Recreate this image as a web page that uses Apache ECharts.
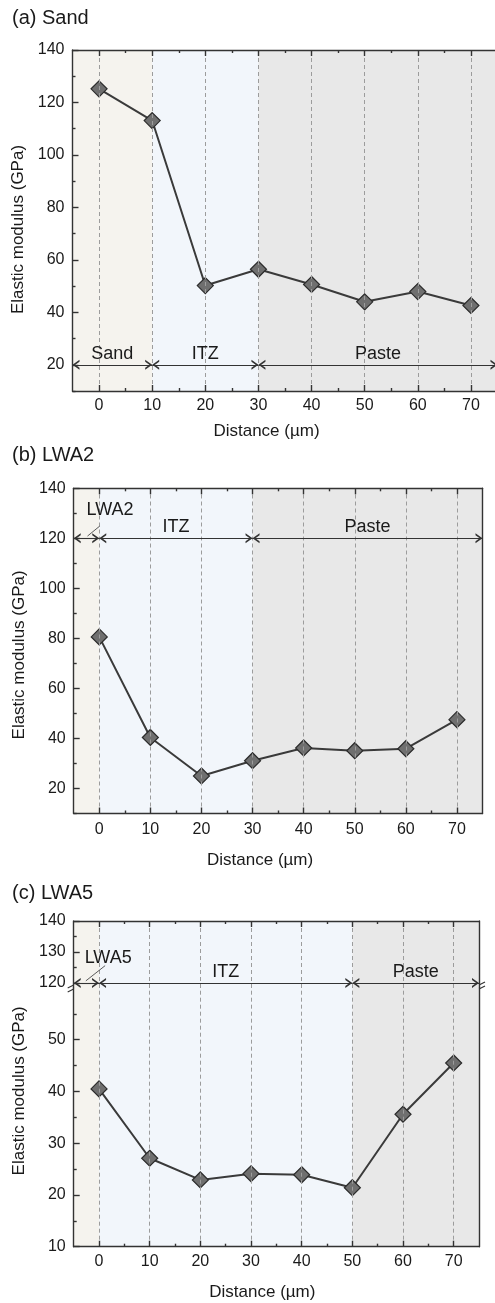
<!DOCTYPE html>
<html>
<head>
<meta charset="utf-8">
<script src="https://cdn.jsdelivr.net/npm/echarts@6/dist/echarts.min.js"></script>
<style>
  html, body { margin: 0; padding: 0; background: #fff; }
  #main { width: 495px; height: 1303px; }
</style>
</head>
<body>
<div id="main"></div>
<script>
// values
const distance = [0, 10, 20, 30, 40, 50, 60, 70]
const sandModulus = [125.2, 113.1, 50.2, 56.4, 50.6, 44.0, 47.9, 42.6]
const lwa2Modulus = [80.6, 40.4, 25.0, 31.1, 36.2, 35.1, 35.9, 47.5]
const lwa5Modulus = [40.5, 27.1, 22.9, 24.1, 23.9, 21.4, 35.6, 45.5]

// zones along distance
const sandZones = ['Sand', 'ITZ', 'Paste']
const sandBounds = [-5, 10, 30, 75]
const lwa2Zones = ['LWA2', 'ITZ', 'Paste']
const lwa2Bounds = [-5, 0, 30, 75]
const lwa5Zones = ['LWA5', 'ITZ', 'Paste']
const lwa5Bounds = [-5, 0, 50, 75]

// ticks
const xMajor = [0, 10, 20, 30, 40, 50, 60, 70]
const xMinor = [5, 15, 25, 35, 45, 55, 65]
const yMajor = [20, 40, 60, 80, 100, 120, 140]
const yMinor = [10, 30, 50, 70, 90, 110, 130]
const cUpperMajor = [120, 130, 140]
const cUpperMinor = [125, 135]
const cLowerMajor = [10, 20, 30, 40, 50]
const cLowerMinor = [15, 25, 35, 45, 55]

const FONT = '"Liberation Sans", Arial, Helvetica, sans-serif'
const TEXT = '#1a1a1a'
const zoneColors = ['#f5f3ee', '#f2f6fb', '#e8e8e8']
const axisLineStyle = { color: '#333', width: 1.4 }
const labelStyle = { fontSize: 16, color: TEXT, fontFamily: FONT }
const nameStyle = { fontSize: 17, color: TEXT, fontFamily: FONT }
// open chevron whose tip sits on the symbol centre (the first sub-path only pads the box)
const ARROW = 'path://M5,-10L5.01,-10L5,-10Z M0,10L5,0L10,10L8,10L5,4L2,10Z'
const ARROW_SIZE = [10, 14]

const xAxis = []
const yAxis = []

function addX(grid, pos, withLabels, margin, nameGap, namePad) {
  const base = { gridIndex: grid, type: 'value', min: -5, max: 75, position: pos, z: 5, splitLine: { show: false } }
  const idx = xAxis.length
  xAxis.push({
    ...base,
    axisLine: { show: true, onZero: false, lineStyle: axisLineStyle },
    axisTick: { show: true, inside: true, length: 6, customValues: xMajor, lineStyle: axisLineStyle },
    axisLabel: withLabels ? { show: true, customValues: xMajor, margin: margin, ...labelStyle } : { show: false },
    name: withLabels ? 'Distance (µm)' : '',
    nameLocation: 'middle',
    nameGap: nameGap,
    nameTextStyle: { ...nameStyle, padding: [0, namePad || 0, 0, 0] }
  })
  xAxis.push({
    ...base,
    axisLine: { show: false, onZero: false },
    axisTick: { show: true, inside: true, length: 3, customValues: xMinor, lineStyle: axisLineStyle },
    axisLabel: { show: false }
  })
  return idx
}

function addY(grid, min, max, major, minor, name, nameGap, namePad) {
  const base = { gridIndex: grid, type: 'value', min: min, max: max, z: 5, splitLine: { show: false } }
  const idx = yAxis.length
  yAxis.push({
    ...base,
    position: 'left',
    axisLine: { show: true, onZero: false, lineStyle: axisLineStyle },
    axisTick: { show: true, inside: true, length: 6, customValues: major, lineStyle: axisLineStyle },
    axisLabel: { show: true, customValues: major, margin: 8, ...labelStyle },
    name: name || '',
    nameLocation: 'middle',
    nameGap: nameGap,
    nameTextStyle: { ...nameStyle, padding: [0, namePad || 0, 0, 0] }
  })
  yAxis.push({
    ...base,
    position: 'left',
    axisLine: { show: false, onZero: false },
    axisTick: { show: true, inside: true, length: 3, customValues: minor, lineStyle: axisLineStyle },
    axisLabel: { show: false }
  })
  yAxis.push({
    ...base,
    position: 'right',
    axisLine: { show: true, onZero: false, lineStyle: axisLineStyle },
    axisTick: { show: false },
    axisLabel: { show: false }
  })
  return idx
}

const grid = [
  { left: 72.5, top: 50, width: 425, height: 341, outerBoundsMode: 'none' },
  { left: 73.7, top: 488.3, width: 408.8, height: 325.2, outerBoundsMode: 'none' },
  { left: 73.7, top: 921, width: 405.3, height: 67, outerBoundsMode: 'none' },
  { left: 73.7, top: 988, width: 405.3, height: 258.7, outerBoundsMode: 'none' },
  { left: 73.7, top: 921, width: 405.3, height: 325.7, outerBoundsMode: 'none' }
]

// (a)
const aX = addX(0, 'bottom', true, 7, 31.5, 37)
addX(0, 'top', false)
const aY = addY(0, 10, 140, yMajor, yMinor, 'Elastic modulus (GPa)', 44.5, 18)
// (b)
const bX = addX(1, 'bottom', true, 8.5, 38, 36)
addX(1, 'top', false)
const bY = addY(1, 10, 140, yMajor, yMinor, 'Elastic modulus (GPa)', 45.5, 8)
// (c) upper part of the broken axis
const cUpX = addX(2, 'top', false)
const cUpY = addY(2, 118.4, 140, cUpperMajor, cUpperMinor, '', 0)
// (c) lower part
const cLowX = addX(3, 'bottom', true, 7, 37.5, 28)
const cLowY = addY(3, 10, 60, cLowerMajor, cLowerMinor, '', 0)
// (c) axis name spanning both parts
xAxis.push({ gridIndex: 4, type: 'value', min: 0, max: 1, show: false })
yAxis.push({
  gridIndex: 4, type: 'value', min: 0, max: 1,
  axisLine: { show: false, onZero: false }, axisTick: { show: false }, axisLabel: { show: false }, splitLine: { show: false },
  name: 'Elastic modulus (GPa)', nameLocation: 'middle', nameGap: 45.5,
  nameTextStyle: { ...nameStyle, padding: [0, 14, 0, 0] }
})

function areaSeries(xi, yi, bounds) {
  return {
    type: 'line', xAxisIndex: xi, yAxisIndex: yi, data: [], z: 1, silent: true,
    markArea: {
      silent: true,
      data: bounds.slice(0, -1).map((b, i) => [
        { xAxis: b, itemStyle: { color: zoneColors[i] } },
        { xAxis: bounds[i + 1] }
      ])
    }
  }
}

function guideSeries(xi, yi, zones, bounds, arrowY, leader, tag) {
  const lines = distance.map((d) => ({
    xAxis: d,
    lineStyle: { type: [4, 3], color: '#9c9c9c', width: 1 },
    label: { show: false }
  }))
  if (zones) {
    zones.forEach((z, i) => {
      const labelled = !(leader && i === 0)
      lines.push([
        { coord: [bounds[i], arrowY], symbol: ARROW, symbolSize: ARROW_SIZE, name: labelled ? z : '' },
        {
          coord: [bounds[i + 1], arrowY], symbol: ARROW, symbolSize: ARROW_SIZE,
          lineStyle: { type: 'solid', color: '#333', width: 1.1 },
          label: { show: labelled }
        }
      ])
    })
  }
  if (leader) {
    lines.push([
      { coord: leader[0], symbol: 'none' },
      { coord: leader[1], symbol: 'none', lineStyle: { type: 'solid', color: '#333', width: 0.8 }, label: { show: false } }
    ])
  }
  const s = {
    type: 'line', xAxisIndex: xi, yAxisIndex: yi, data: [], z: 2, silent: true,
    markLine: {
      silent: true,
      symbol: ['none', 'none'],
      symbolSize: ARROW_SIZE,
      label: { show: true, position: 'middle', distance: 2, formatter: '{b}', fontSize: 18, color: TEXT, fontFamily: FONT },
      data: lines
    }
  }
  if (tag) {
    s.markPoint = {
      silent: true,
      symbol: 'rect',
      symbolSize: 1,
      itemStyle: { color: 'rgba(0,0,0,0)' },
      label: { show: true, position: 'inside', formatter: '{b}', fontSize: 18, color: TEXT, fontFamily: FONT },
      data: [{ coord: tag.at, name: tag.text }]
    }
  }
  return s
}

function dataSeries(name, xi, yi, values) {
  return {
    name: name, type: 'line', xAxisIndex: xi, yAxisIndex: yi, z: 3,
    data: distance.map((d, i) => [d, values[i]]),
    symbol: 'diamond', symbolSize: 16,
    lineStyle: { color: '#3a3a3a', width: 2 },
    itemStyle: { color: '#6f6f6f', borderColor: '#2b2b2b', borderWidth: 1.2 }
  }
}

const series = [
  areaSeries(aX, aY, sandBounds),
  guideSeries(aX, aY, sandZones, sandBounds, 20),
  dataSeries('Sand', aX, aY, sandModulus),

  areaSeries(bX, bY, lwa2Bounds),
  guideSeries(bX, bY, lwa2Zones, lwa2Bounds, 120, [[-2.3, 120.9], [0.1, 124.9]], { at: [2.1, 131.3], text: 'LWA2' }),
  dataSeries('LWA2', bX, bY, lwa2Modulus),

  areaSeries(cUpX, cUpY, lwa5Bounds),
  guideSeries(cUpX, cUpY, lwa5Zones, lwa5Bounds, 120, [[-2.6, 120.7], [1.2, 125.6]], { at: [1.8, 128.1], text: 'LWA5' }),
  areaSeries(cLowX, cLowY, lwa5Bounds),
  guideSeries(cLowX, cLowY, null, null, null),
  dataSeries('LWA5', cLowX, cLowY, lwa5Modulus)
]

const titleStyle = { fontSize: 20, fontWeight: 'normal', color: TEXT, fontFamily: FONT }
const option = {
  animation: false,
  backgroundColor: '#fff',
  title: [
    { text: '(a) Sand', left: 7, top: 3, textStyle: titleStyle },
    { text: '(b) LWA2', left: 7, top: 440, textStyle: titleStyle },
    { text: '(c) LWA5', left: 7, top: 878, textStyle: titleStyle }
  ],
  grid: grid,
  xAxis: xAxis,
  yAxis: yAxis,
  series: series
}

const chart = echarts.init(document.getElementById('main'))
chart.setOption(option)

// "//" break marks on the broken y axis of (c)
function breakMark(xv) {
  const p = chart.convertToPixel({ xAxisIndex: cLowX, yAxisIndex: cLowY }, [xv, 60])
  return {
    type: 'group', x: p[0], y: p[1] - 1, z: 100,
    children: [
      { type: 'polygon', shape: { points: [[-6, 1], [6, -5], [6, -1], [-6, 5]] }, style: { fill: '#fff' } },
      { type: 'line', shape: { x1: -6, y1: 1, x2: 6, y2: -5 }, style: { stroke: '#333', lineWidth: 1.2 } },
      { type: 'line', shape: { x1: -6, y1: 5, x2: 6, y2: -1 }, style: { stroke: '#333', lineWidth: 1.2 } }
    ]
  }
}
chart.setOption({ graphic: [breakMark(-5), breakMark(75)] })
</script>
</body>
</html>
